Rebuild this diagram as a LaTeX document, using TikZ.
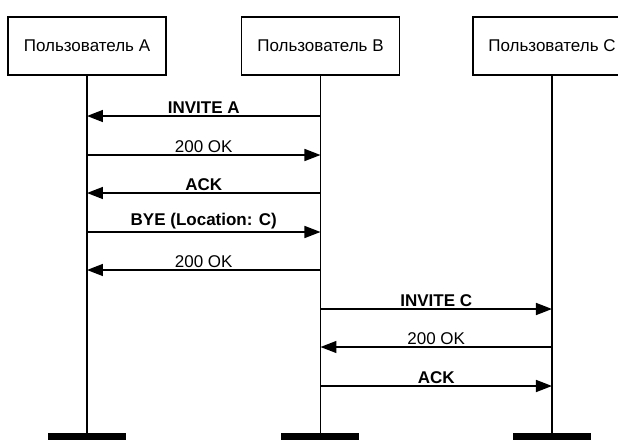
\documentclass[tikz,border=0pt]{standalone}
\usepackage{fontspec}
\setmainfont{Liberation Sans}
\usetikzlibrary{arrows.meta, positioning}

\begin{document}
\begin{tikzpicture}[
    x=0.5pt, y=-0.5pt,
    user/.style={rectangle, draw, line width=0.75pt, minimum width=79pt,
                 minimum height=29pt, font=\fontsize{8.5}{10}\selectfont},
    lifeend/.style={rectangle, fill=black, minimum width=39pt,
                    minimum height=7pt, inner sep=0pt},
    life/.style={line width=0.75pt},
    msg/.style={-{Triangle[length=8pt, width=6pt]}, line width=0.75pt},
    lbl/.style={above, inner sep=1pt, font=\fontsize{8.5}{10}\selectfont},
    boldlbl/.style={above, inner sep=1pt, font=\fontsize{8.5}{10}\selectfont\bfseries}
]
\useasboundingbox (0,0) rectangle (618,440);

% Users
\node[user] (userA) at (87,46) {Пользователь А};
\node[user, right=37pt of userA] (userB) {Пользователь В};
\node[user, right=36pt of userB] (userC) {Пользователь С};

% Lifelines
\node[lifeend, below=178.5pt of userA] (endA) {};
\node[lifeend, below=178.5pt of userB] (endB) {};
\node[lifeend, below=178.5pt of userC] (endC) {};
\draw[life] (userA.south) -- (endA.north);
\draw[life] (userB.south) -- (endB.north);
\draw[life] (userC.south) -- (endC.north);

% Message levels
\coordinate (m1) at (0,116);
\coordinate (m2) at (0,155);
\coordinate (m3) at (0,193);
\coordinate (m4) at (0,232);
\coordinate (m5) at (0,270);
\coordinate (m6) at (0,309);
\coordinate (m7) at (0,347);
\coordinate (m8) at (0,386);

% Messages
\draw[msg] (userB |- m1) -- node[boldlbl] {INVITE A} (userA |- m1);
\draw[msg] (userA |- m2) -- node[lbl] {200 OK} (userB |- m2);
\draw[msg] (userB |- m3) -- node[boldlbl] {ACK} (userA |- m3);
\draw[msg] (userA |- m4) -- node[boldlbl] {BYE (Location: C)} (userB |- m4);
\draw[msg] (userB |- m5) -- node[lbl] {200 OK} (userA |- m5);
\draw[msg] (userB |- m6) -- node[boldlbl] {INVITE C} (userC |- m6);
\draw[msg] (userC |- m7) -- node[lbl] {200 OK} (userB |- m7);
\draw[msg] (userB |- m8) -- node[boldlbl] {ACK} (userC |- m8);

\end{tikzpicture}
\end{document}
